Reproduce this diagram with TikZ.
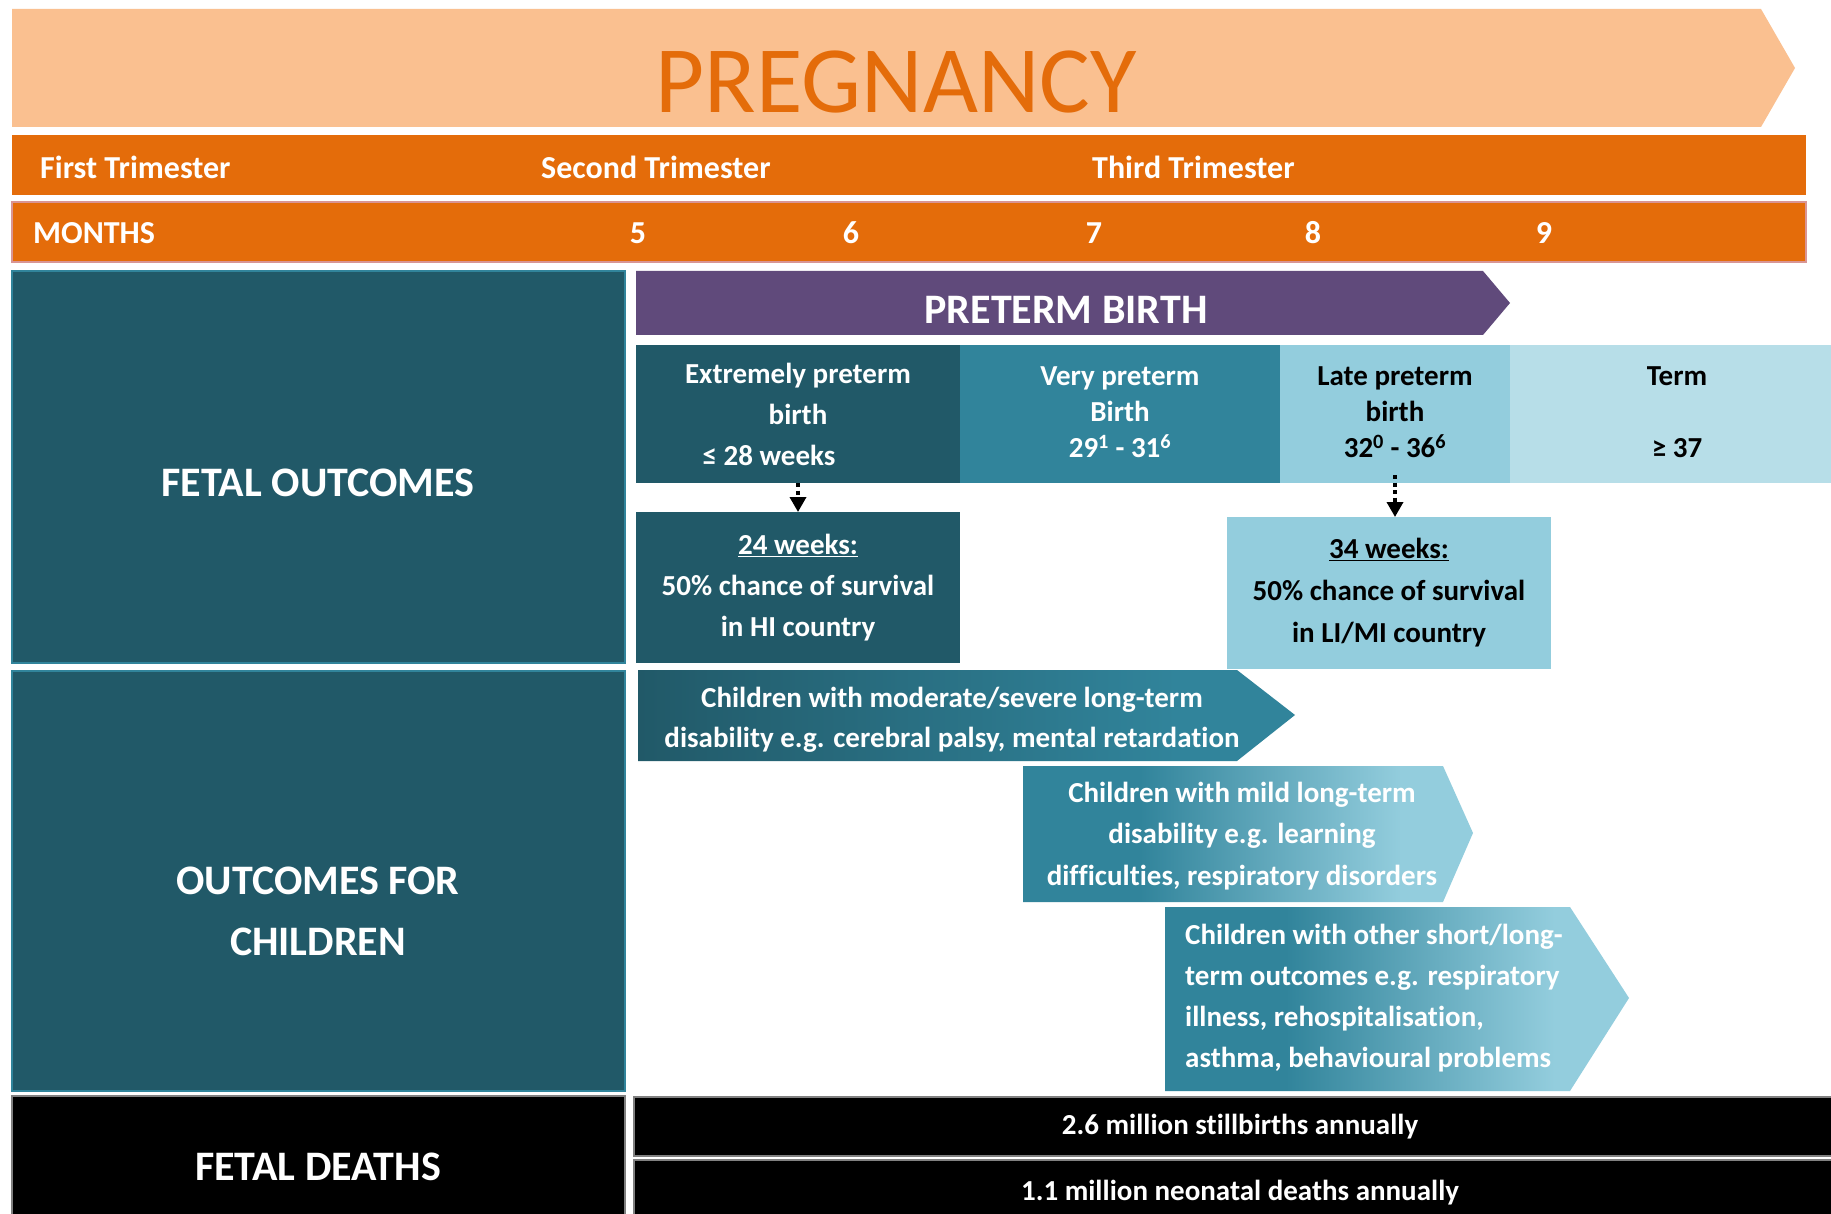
\documentclass[tikz,border=0pt]{standalone}
\usepackage{fontspec}
\setmainfont[Ligatures=NoCommon]{Carlito}
\usetikzlibrary{arrows.meta}
\definecolor{peach}{HTML}{FAC090}
\definecolor{orangeT}{HTML}{E46C0A}
\definecolor{pinkB}{HTML}{D99594}
\definecolor{tealD}{HTML}{215968}
\definecolor{tealM}{HTML}{31849B}
\definecolor{tealL}{HTML}{93CDDD}
\definecolor{tealP}{HTML}{B7DEE8}
\definecolor{purpleP}{HTML}{604A7B}
\pgfdeclarehorizontalshading{darksh}{100bp}{color(0bp)=(tealD); color(25bp)=(tealD); color(66bp)=(tealM); color(100bp)=(tealM)}
\pgfdeclarehorizontalshading{lightsh}{100bp}{color(0bp)=(tealM); color(38bp)=(tealM); color(67bp)=(tealL); color(100bp)=(tealL)}
\begin{document}
\begin{tikzpicture}[x=1pt,y=-1pt,
  box/.style={inner sep=0pt, outer sep=0pt, anchor=north west},
  wt/.style={text=white, font=\bfseries\fontsize{29}{40}\selectfont, align=center, inner sep=0pt},
  bt/.style={text=black, font=\bfseries\fontsize{29}{40}\selectfont, align=center, inner sep=0pt},
  big/.style={text=white, font=\bfseries\fontsize{42}{61}\selectfont, align=center, inner sep=0pt},
  bar/.style={text=white, font=\bfseries\fontsize{32}{38}\selectfont, inner sep=0pt},
  dotarrow/.style={line width=3.5pt, dash pattern=on 4pt off 3.5pt, -{Triangle[width=16pt,length=15pt]}}
]
\useasboundingbox (0,0) rectangle (1831,1214);
\fill[white] (0,0) rectangle (1831,1214);

% Pregnancy banner
\fill[peach] (12,9) -- (1761,9) -- (1795,68) -- (1761,127) -- (12,127) -- cycle;
\node[text=orangeT, font=\fontsize{95}{100}\selectfont, inner sep=0pt] (preg) at (896,82) {PREGNANCY};

% Trimester bar
\node[box, fill=orangeT, minimum width=1794pt, minimum height=60pt] (tribar) at (12,135) {};
\node[bar, anchor=west] (t1) at (40,167) {First Trimester};
\node[bar, anchor=west] (t2) at (541,167) {Second Trimester};
\node[bar, anchor=west] (t3) at (1092,167) {Third Trimester};

% Months bar
\node[box, fill=orangeT, draw=pinkB, line width=1.5pt, minimum width=1794pt, minimum height=60pt] (monbar) at (12,202) {};
\node[bar, anchor=west] (mo) at (33,233) {MONTHS};
\node[bar] (m5) at (638,233) {5};
\node[bar] (m6) at (851,233) {6};
\node[bar] (m7) at (1094,233) {7};
\node[bar] (m8) at (1313,233) {8};
\node[bar] (m9) at (1544,233) {9};

% Left column
\node[box, fill=tealD, draw=tealM, line width=1.5pt, minimum width=613pt, minimum height=392pt] (fo) at (12,271) {};
\node[big] (fotxt) at (318,483) {FETAL OUTCOMES};
\node[box, fill=tealD, draw=tealM, line width=1.5pt, minimum width=613pt, minimum height=420pt] (oc) at (12,671) {};
\node[big] (octxt) at (318,911) {OUTCOMES FOR\\CHILDREN};
\node[box, fill=black, draw=gray, line width=1.5pt, minimum width=613pt, minimum height=142pt] (fd) at (12,1096) {};
\node[big] (fdtxt) at (318,1167) {FETAL DEATHS};

% Preterm birth arrow
\fill[purpleP] (636,271) -- (1483,271) -- (1510,303) -- (1483,335) -- (636,335) -- cycle;
\node[big] (ptb) at (1066,310) {PRETERM BIRTH};

% Category row
\node[box, fill=tealD, minimum width=324pt, minimum height=138pt, wt, font=\bfseries\fontsize{29}{41}\selectfont] (ext) at (636,345) {Extremely preterm\\birth\\≤ 28 weeks\hspace*{58pt}};
\node[box, fill=tealM, minimum width=320pt, minimum height=134pt, wt, font=\bfseries\fontsize{29}{36}\selectfont] (vp) at (960,345) {Very preterm\\Birth\\29\textsuperscript{1} - 31\textsuperscript{6}};
\node[box, fill=tealL, minimum width=230pt, minimum height=134pt, bt, font=\bfseries\fontsize{29}{36}\selectfont] (late) at (1280,345) {Late preterm\\birth\\32\textsuperscript{0} - 36\textsuperscript{6}};
\node[box, fill=tealP, minimum width=334pt, minimum height=134pt, bt, font=\bfseries\fontsize{29}{36}\selectfont] (term) at (1510,345) {Term\\[36pt]≥ 37};
\fill[tealM] (vp.south west) rectangle ([yshift=-4pt]vp.south east);
\fill[tealL] (late.south west) rectangle ([yshift=-4pt]late.south east);
\fill[tealP] (term.south west) rectangle ([yshift=-4pt]term.south east);

% Survival boxes
\node[box, fill=tealD, minimum width=324pt, minimum height=151pt, wt, font=\bfseries\fontsize{29}{41}\selectfont] (w24) at (636,512) {\underline{24 weeks:}\\50\% chance of survival\\in HI country};
\node[box, fill=tealL, minimum width=324pt, minimum height=152pt, bt, font=\bfseries\fontsize{29}{42}\selectfont] (w34) at (1227,517) {\underline{34 weeks:}\\50\% chance of survival\\in LI/MI country};
\draw[dotarrow] (ext.south) -- (w24.north);
\draw[dotarrow] ([yshift=4pt]late.south) -- (late.south |- w34.north);

% Children outcome arrows
\shade[shading=darksh] (638,670) -- (1237,670) -- (1295,715) -- (1237,761) -- (638,761) -- cycle;
\node[wt] (c1) at (952,720) {Children with moderate/severe long-term\\disability e.g. cerebral palsy, mental retardation};
\shade[shading=lightsh] (1023,766) -- (1443,766) -- (1473,833) -- (1443,902) -- (1023,902) -- cycle;
\node[wt, font=\bfseries\fontsize{29}{41.5}\selectfont] (c2) at (1242,836) {Children with mild long-term\\disability e.g. learning\\difficulties, respiratory disorders};
\shade[shading=lightsh] (1165,907) -- (1570,907) -- (1629,998) -- (1570,1091) -- (1165,1091) -- cycle;
\node[wt, align=left, anchor=west, font=\bfseries\fontsize{29}{41}\selectfont] (c3) at (1185,998) {Children with other short/long-\\term outcomes e.g. respiratory\\illness, rehospitalisation,\\asthma, behavioural problems};

% Death bars
\node[box, fill=black, draw=gray, line width=1.5pt, minimum width=1212pt, minimum height=59pt, wt] (sb) at (634,1097) {2.6 million stillbirths annually};
\node[box, fill=black, draw=gray, line width=1.5pt, minimum width=1212pt, minimum height=66pt, wt] (nd) at (634,1160) {1.1 million neonatal deaths annually};
\end{tikzpicture}
\end{document}
